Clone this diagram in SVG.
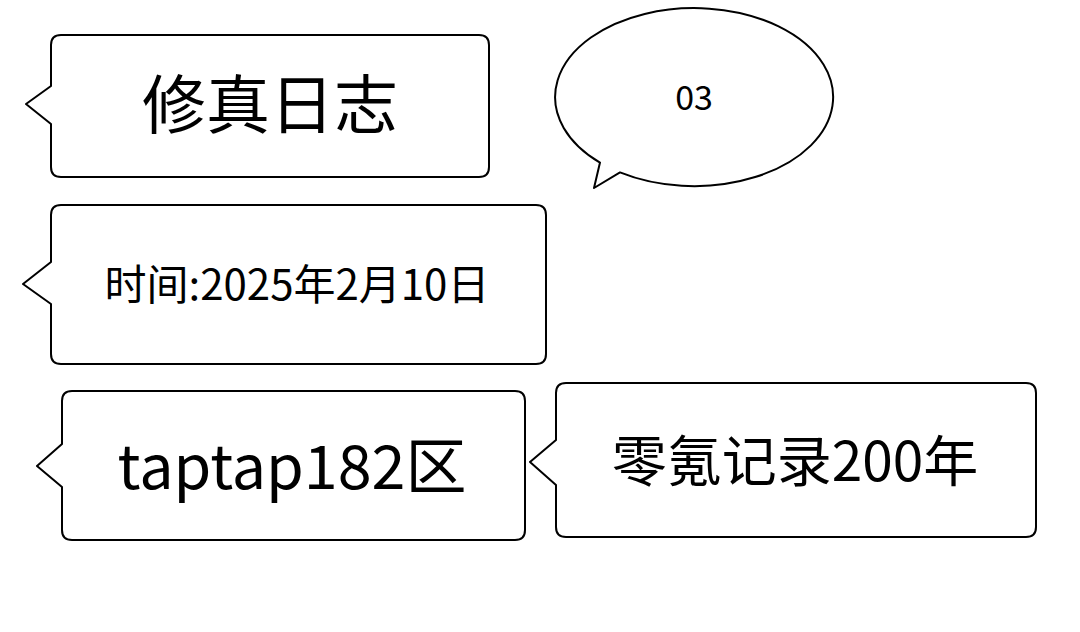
<svg xmlns="http://www.w3.org/2000/svg" width="1080" height="632" viewBox="0 0 1080 632">
<style>
.s{fill:#fff;stroke:#000;stroke-width:2;stroke-linejoin:round}
.t{font-family:"Noto Sans CJK SC","Noto Sans",sans-serif;fill:#000;text-anchor:middle}
</style>
<rect width="1080" height="632" fill="#fff"/>
<g id="n1">
<path class="s" d="M61,35 H479 Q489,35 489,45 V167 Q489,177 479,177 H61 Q51,177 51,167 V124 L26,104 L51,86 V45 Q51,35 61,35 Z"/>
<text class="t" x="270" y="128" font-size="64">修真日志</text>
</g>
<g id="n2">
<path class="s" d="M600,162.6 A139,89 0 1 1 620,172.4 L594,188 Z"/>
<text class="t" x="694" y="110" font-size="34">03</text>
</g>
<g id="n3">
<path class="s" d="M61,205 H536 Q546,205 546,215 V354 Q546,364 536,364 H61 Q51,364 51,354 V304 L23,284 L51,262 V215 Q51,205 61,205 Z"/>
<text class="t" x="297" y="300" font-size="42">时间:2025年2月10日</text>
</g>
<g id="n4">
<path class="s" d="M72,391 H515 Q525,391 525,401 V530 Q525,540 515,540 H72 Q62,540 62,530 V487 L37,466 L62,444 V401 Q62,391 72,391 Z"/>
<text class="t" x="292" y="489" font-size="61">taptap182区</text>
</g>
<g id="n5">
<path class="s" d="M566,383 H1026 Q1036,383 1036,393 V527 Q1036,537 1026,537 H566 Q556,537 556,527 V485 L530,462 L556,440 V393 Q556,383 566,383 Z"/>
<text class="t" x="795" y="481" font-size="55">零氪记录200年</text>
</g>
<g id="connectors"></g>
</svg>
